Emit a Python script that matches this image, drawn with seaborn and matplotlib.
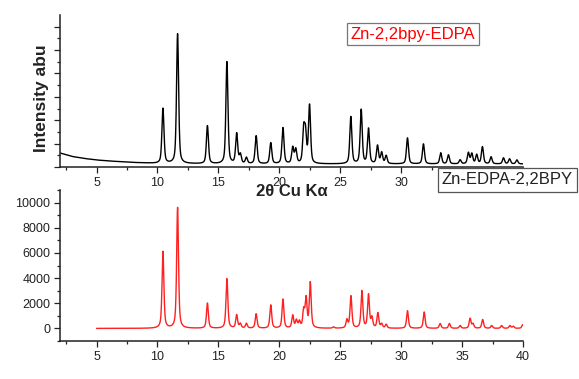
import numpy as np
import pandas as pd
import matplotlib
matplotlib.use("Agg")
import matplotlib.pyplot as plt
from matplotlib.ticker import MultipleLocator
import seaborn as sns

# ---------------- data ----------------
# Top: experimental pattern (arbitrary intensity units)
exp_pos = [10.45, 11.65, 14.10, 15.70, 16.50, 16.80, 17.30, 18.10, 19.30, 20.30,
           21.10, 21.35, 22.00, 22.15, 22.48, 25.87, 26.72, 27.32, 28.06, 28.40,
           28.77, 30.52, 31.83, 33.25, 33.88, 34.84, 35.52, 35.80, 36.20, 36.67,
           37.38, 38.40, 38.90, 39.50]
exp_int = [55, 130, 38, 102, 30, 9, 6, 28, 21, 36,
           16, 14, 32, 28, 58, 47, 54, 35, 18, 11,
           8, 26, 20, 11, 9, 4, 11, 10, 9, 17,
           7, 6, 5, 4]
exp_bg_x = [2.0, 3.0, 4.0, 5.0, 6.0, 8.0, 10.0, 15.0, 25.0, 40.0]
exp_bg_y = [14, 10.5, 8.5, 7, 6, 4.5, 3.5, 3, 3, 3]

# Bottom: simulated pattern (counts)
sim_pos = [10.45, 11.65, 14.10, 15.70, 16.50, 16.80, 17.30, 18.10, 19.30, 20.30,
           21.10, 21.40, 21.65, 22.00, 22.20, 22.54, 24.45, 25.55, 25.88, 26.78,
           27.32, 27.60, 28.09, 28.40, 28.77, 30.52, 31.89, 33.20, 33.96, 34.84,
           35.66, 35.90, 36.69, 37.43, 38.25, 38.93, 39.20, 39.98]
sim_int = [6100, 9600, 2000, 3950, 1050, 350, 380, 1150, 1850, 2300,
           1000, 600, 500, 1350, 2300, 3600, 100, 650, 2550, 2950,
           2650, 800, 1200, 330, 300, 1400, 1300, 380, 380, 220,
           780, 350, 700, 220, 220, 220, 160, 300]

x_start_sim = 5.0
x_end = 40.0

top_xticks = [5, 10, 15, 20, 25, 30, 35, 40]
top_xticklabels = ["5", "10", "15", "20", "25", "30", "", ""]

# ---------------- profiles built from the peak lists ----------------
def pattern(x, pos, inten, fwhm, eta):
    y = np.zeros_like(x)
    g = fwhm / 2.0
    for p, h in zip(pos, inten):
        lor = 1.0 / (1.0 + ((x - p) / g) ** 2)
        gau = np.exp(-np.log(2) * ((x - p) / g) ** 2)
        y += h * (eta * lor + (1 - eta) * gau)
    return y

x_exp = np.linspace(2.0, x_end, 4000)
y_exp = np.interp(x_exp, exp_bg_x, exp_bg_y) + pattern(x_exp, exp_pos, exp_int, 0.2, 0.5)
df_exp = pd.DataFrame({"x": x_exp, "y": y_exp})

x_sim = np.linspace(x_start_sim, x_end, 4000)
y_sim = pattern(x_sim, sim_pos, sim_int, 0.18, 0.6)
df_sim = pd.DataFrame({"x": x_sim, "y": y_sim})

# ---------------- figure ----------------
sns.set_style("ticks")
plt.rcParams["font.family"] = ["Liberation Sans", "DejaVu Sans"]

fig = plt.figure(figsize=(5.79, 3.79), dpi=100)
W, H = 579.0, 379.0
ax2 = fig.add_axes([60 / W, 1 - 341 / H, 463 / W, 151 / H])
ax1 = fig.add_axes([60 / W, 1 - 167 / H, 463 / W, 152 / H])
ax1.patch.set_visible(False)
ax2.patch.set_visible(False)

sns.lineplot(data=df_exp, x="x", y="y", ax=ax1, color="black", linewidth=1.0,
             estimator=None, sort=False)
sns.lineplot(data=df_sim, x="x", y="y", ax=ax2, color="#ff2020", linewidth=1.0,
             estimator=None, sort=False)

for ax in (ax1, ax2):
    ax.set_xlim(2, 40)
    sns.despine(ax=ax)
    for s in ("left", "bottom"):
        ax.spines[s].set_linewidth(1.1)
        ax.spines[s].set_color("#222222")
    ax.xaxis.set_minor_locator(MultipleLocator(2.5))
    ax.tick_params(which="major", direction="out", length=4, width=0.9,
                   labelsize=9, pad=3, color="#222222", labelcolor="#222222")
    ax.tick_params(which="minor", direction="out", length=2.2, width=0.9,
                   color="#222222")

ax1.set_xticks(top_xticks)
ax1.set_xticklabels(top_xticklabels)
ax1.set_ylim(0, 152)
ax1.yaxis.set_major_locator(MultipleLocator(23.4))
ax1.yaxis.set_minor_locator(MultipleLocator(11.7))
ax1.set_yticklabels([])
ax1.set_xlabel("2θ Cu Kα", fontsize=12, fontweight="bold", labelpad=-3.5,
               color="#222222")
ax1.set_ylabel("Intensity abu", fontsize=12.5, fontweight="bold", color="#222222")
ax1.yaxis.set_label_coords(-0.024, 0.45)

ax2.xaxis.set_major_locator(MultipleLocator(5))
ax2.set_ylim(-1000, 11000)
ax2.yaxis.set_major_locator(MultipleLocator(2000))
ax2.yaxis.set_minor_locator(MultipleLocator(1000))
ax2.tick_params(axis="y", which="major", pad=3)
ax2.set_xlabel("")
ax2.set_ylabel("")

fig.text(413 / W, 1 - 34 / H, "Zn-2,2bpy-EDPA", color="red", fontsize=12,
         ha="center", va="center",
         bbox=dict(boxstyle="square,pad=0.2", fc="white", ec="#777777", lw=0.9))
fig.text(442 / W, 1 - 180 / H, "Zn-EDPA-2,2BPY", color="#222222", fontsize=12,
         ha="left", va="center", zorder=10,
         bbox=dict(boxstyle="square,pad=0.25", fc="white", ec="#555555", lw=0.9))

fig.savefig("out.png", dpi=100)
